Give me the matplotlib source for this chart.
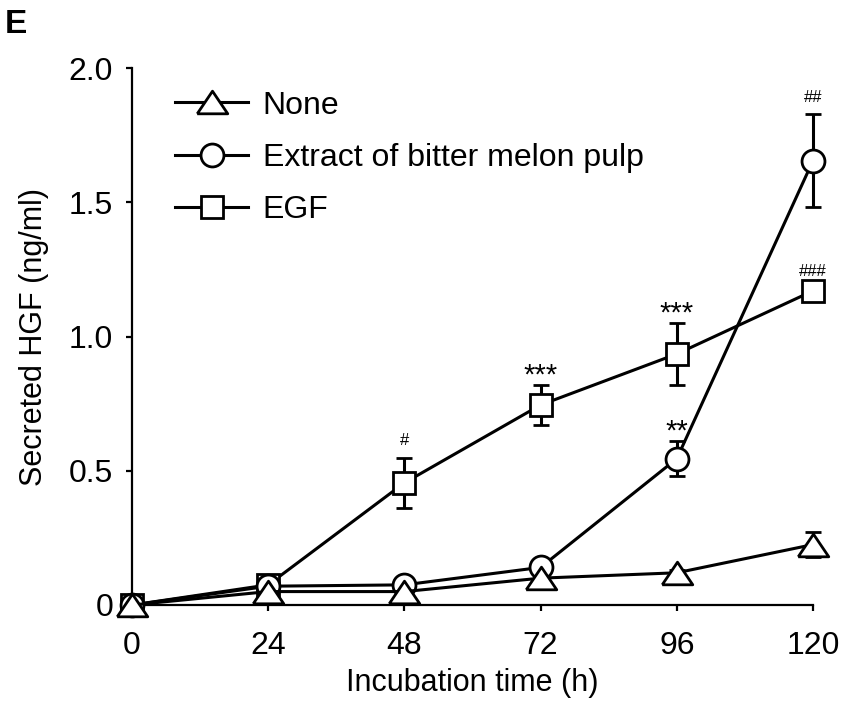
import numpy as np
import matplotlib
matplotlib.use("Agg")
import matplotlib.pyplot as plt

plt.rcParams["font.family"] = ["Liberation Sans", "DejaVu Sans"]

# ---------- data ----------
hours = [0, 24, 48, 72, 96, 120]

none_mean = [0.0, 0.05, 0.05, 0.10, 0.12, 0.225]
none_err = [0.0, 0.01, 0.01, 0.01, 0.01, 0.047]

extract_mean = [0.0, 0.07, 0.075, 0.14, 0.545, 1.655]
extract_err = [0.0, 0.01, 0.01, 0.01, 0.065, 0.173]

egf_mean = [0.0, 0.075, 0.455, 0.745, 0.935, 1.17]
egf_err = [0.0, 0.01, 0.093, 0.075, 0.117, 0.01]

# significance marks: (series, time index, label)
marks = [
    ("egf", 2, "#"),
    ("egf", 3, "***"),
    ("egf", 4, "***"),
    ("extract", 4, "**"),
    ("extract", 5, "##"),
    ("egf", 5, "###"),
]

series = {
    "none": ("None", none_mean, none_err),
    "extract": ("Extract of bitter melon pulp", extract_mean, extract_err),
    "egf": ("EGF", egf_mean, egf_err),
}

# wide flat triangle like the original
tri = [(-1.0, -0.74), (1.0, -0.74), (0.0, 0.74), (-1.0, -0.74)]
styles = {
    "none": dict(marker=tri, ms=22),
    "extract": dict(marker="o", ms=16.5),
    "egf": dict(marker="s", ms=16.5),
}

fig = plt.figure(figsize=(8.43, 7.13), dpi=100)
ax = fig.add_axes([132 / 843, 108 / 713, (813 - 132) / 843, (605 - 68) / 713])

# draw EGF first so the triangles end up on top, like the original
handles = {}
for key in ["egf", "extract", "none"]:
    label, mean, err = series[key]
    eb = ax.errorbar(hours, mean, yerr=err, color="black", lw=2.2,
                     mfc="white", mec="black", mew=2.0,
                     capsize=5.5, capthick=2.2, elinewidth=2.2,
                     label=label, clip_on=False, zorder=3, **styles[key])
    for art in eb.lines[1] + eb.lines[2]:
        art.set_clip_on(False)
    handles[key] = eb

for key, i, txt in marks:
    _, mean, err = series[key]
    top = mean[i] + err[i]
    if txt.startswith("#"):
        ax.annotate(txt, (hours[i], top), xytext=(0, 9), textcoords="offset points",
                    ha="center", va="baseline", fontsize=12)
    else:
        ax.annotate(txt, (hours[i], top), xytext=(0, 1), textcoords="offset points",
                    ha="center", va="baseline", fontsize=21)

ax.set_xlim(0, 120)
ax.set_ylim(0, 2.0)
ax.set_xticks(hours)
ax.set_yticks([0, 0.5, 1.0, 1.5, 2.0])
ax.set_yticklabels(["0", "0.5", "1.0", "1.5", "2.0"])

for side in ["top", "right"]:
    ax.spines[side].set_visible(False)
for side in ["left", "bottom"]:
    ax.spines[side].set_linewidth(1.6)
ax.tick_params(direction="out", length=4.5, width=1.6, labelsize=23)
ax.tick_params(axis="x", pad=14)
ax.tick_params(axis="y", pad=9)

ax.set_xlabel("Incubation time (h)", fontsize=22, labelpad=5)
ax.set_ylabel("Secreted HGF (ng/ml)", fontsize=22, labelpad=14)

order = ["none", "extract", "egf"]
leg = ax.legend(handles=[handles[k][0] for k in order],
                labels=[series[k][0] for k in order],
                loc="upper left", bbox_to_anchor=(0.063, 0.958), frameon=False,
                borderaxespad=0, borderpad=0,
                fontsize=23, handlelength=2.3, labelspacing=0.7, handletextpad=0.45)

fig.text(5 / 843, 1 - 33 / 713, "E", fontsize=24, fontweight="bold")

fig.savefig("out.png", dpi=100)
